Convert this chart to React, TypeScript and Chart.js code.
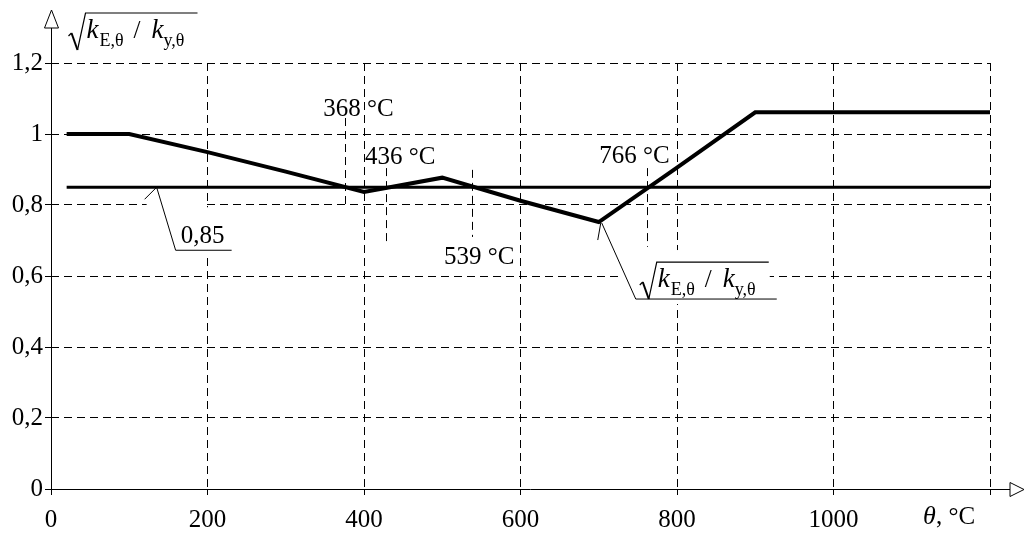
import React, { useEffect, useRef } from 'react';
import { Chart, registerables } from 'chart.js';

Chart.register(...registerables);

const FONT = "'Liberation Serif', 'Times New Roman', serif";

// Data
const temperatures = [20, 100, 200, 300, 400, 500, 600, 700, 800, 900, 1000, 1100, 1200];
const ratioValues = [1.0, 1.0, 0.949, 0.894, 0.837, 0.877, 0.812, 0.752, 0.905, 1.061, 1.061, 1.061, 1.061];
const limitTemps = [20, 1200];
const limitValues = [0.85, 0.85];
const xTickValues = [0, 200, 400, 600, 800, 1000, 1200];
const yTickValues = [0, 0.2, 0.4, 0.6, 0.8, 1.0, 1.2];
const limitLabel = '0,85';
const markerLabels = ['368 °C', '436 °C', '539 °C', '766 °C'];
const markerTemps = [376, 428, 538, 762];
const markerFrom = [0.8, 0.685, 0.71, 0.682];
const markerTo = [1.045, 0.904, 0.899, 0.904];
const limitLeaderTemp = 135;
const curveLeaderIndex = 7;

// Layout of annotation labels (pixel offsets)
const markerLabelLayout = [
  { dx: -22, dy: -9, end: 'top' },
  { dx: -21, dy: -11, end: 'top' },
  { dx: -28, dy: 20, end: 'bottom' },
  { dx: -48, dy: -12, end: 'top' },
];

function fmtY(v: number): string {
  if (v === 0) return '0';
  if (Math.abs(v - 1) < 1e-9) return '1';
  return v.toFixed(1).replace('.', ',');
}

function drawSqrtLabel(ctx: CanvasRenderingContext2D, x0: number, base: number) {
  ctx.save();
  ctx.strokeStyle = '#000';
  ctx.fillStyle = '#000';
  ctx.lineWidth = 1.2;
  ctx.lineJoin = 'miter';
  ctx.beginPath();
  ctx.moveTo(x0, base - 2);
  ctx.lineTo(x0 + 3, base - 5);
  ctx.stroke();
  ctx.lineWidth = 2;
  ctx.beginPath();
  ctx.moveTo(x0 + 3, base - 5);
  ctx.lineTo(x0 + 9, base + 12);
  ctx.stroke();
  ctx.lineWidth = 1.2;
  ctx.beginPath();
  ctx.moveTo(x0 + 9, base + 12);
  ctx.lineTo(x0 + 17, base - 25);
  ctx.lineTo(x0 + 129, base - 25);
  ctx.stroke();
  ctx.textBaseline = 'alphabetic';
  ctx.textAlign = 'left';
  ctx.font = `italic 27px ${FONT}`;
  ctx.fillText('k', x0 + 18, base);
  ctx.font = `18px ${FONT}`;
  ctx.fillText('E,θ', x0 + 31, base + 8);
  ctx.font = `25px ${FONT}`;
  ctx.fillText('/', x0 + 65, base);
  ctx.font = `italic 27px ${FONT}`;
  ctx.fillText('k', x0 + 83, base);
  ctx.font = `18px ${FONT}`;
  ctx.fillText('y,θ', x0 + 95, base + 8);
  ctx.restore();
}

const overlayPlugin = {
  id: 'overlay',
  afterDraw(chart: any) {
    const ctx: CanvasRenderingContext2D = chart.ctx;
    const xs = chart.scales.x;
    const ys = chart.scales.y;
    const ax = Math.round(xs.getPixelForValue(0)) + 0.5;
    const ay = Math.round(ys.getPixelForValue(0)) + 0.5;
    ctx.save();
    ctx.strokeStyle = '#000';
    ctx.fillStyle = '#000';

    // Axes
    ctx.lineWidth = 1;
    ctx.setLineDash([]);
    ctx.beginPath();
    ctx.moveTo(ax, ay);
    ctx.lineTo(ax, 28);
    ctx.moveTo(ax - 0.5, ay);
    ctx.lineTo(1010, ay);
    ctx.stroke();

    // Arrows (open triangles)
    ctx.fillStyle = '#fff';
    ctx.beginPath();
    ctx.moveTo(ax, 10);
    ctx.lineTo(ax - 7, 28);
    ctx.lineTo(ax + 7, 28);
    ctx.closePath();
    ctx.fill();
    ctx.stroke();
    ctx.beginPath();
    ctx.moveTo(1024, ay);
    ctx.lineTo(1010, ay - 7);
    ctx.lineTo(1010, ay + 7);
    ctx.closePath();
    ctx.fill();
    ctx.stroke();
    ctx.fillStyle = '#000';

    // Temperature markers
    ctx.setLineDash([8, 5]);
    ctx.lineWidth = 1;
    markerTemps.forEach((t, i) => {
      const px = Math.round(xs.getPixelForValue(t)) + 0.5;
      const yTop = ys.getPixelForValue(markerTo[i]);
      const yBot = ys.getPixelForValue(markerFrom[i]);
      ctx.beginPath();
      ctx.moveTo(px, yTop);
      ctx.lineTo(px, yBot);
      ctx.stroke();
    });
    ctx.setLineDash([]);
    ctx.font = `25px ${FONT}`;
    ctx.textBaseline = 'middle';
    ctx.textAlign = 'left';
    markerTemps.forEach((t, i) => {
      const L = markerLabelLayout[i];
      const px = xs.getPixelForValue(t);
      const yRef = L.end === 'top' ? ys.getPixelForValue(markerTo[i]) : ys.getPixelForValue(markerFrom[i]);
      ctx.fillText(markerLabels[i], px + L.dx, yRef + L.dy);
    });

    // Leader for 0,85
    {
      const px = xs.getPixelForValue(limitLeaderTemp);
      const py = ys.getPixelForValue(limitValues[0]);
      ctx.fillStyle = '#fff';
      ctx.fillRect(px - 10, py + 9, 57, 11);
      ctx.fillRect(px + 5, py + 20, 73, 47);
      ctx.fillStyle = '#000';
      ctx.lineWidth = 1;
      ctx.beginPath();
      ctx.moveTo(px, py);
      ctx.lineTo(px - 12, py + 12);
      ctx.moveTo(px, py);
      ctx.lineTo(px + 19, py + 63);
      ctx.lineTo(px + 75, py + 63);
      ctx.stroke();
      ctx.font = `25px ${FONT}`;
      ctx.textBaseline = 'middle';
      ctx.fillText(limitLabel, px + 24, py + 49);
    }

    // Leader for curve label
    {
      const px = xs.getPixelForValue(temperatures[curveLeaderIndex]);
      const py = ys.getPixelForValue(ratioValues[curveLeaderIndex]);
      ctx.fillStyle = '#fff';
      ctx.fillRect(px + 21, py + 28, 150, 54);
      ctx.fillStyle = '#000';
      ctx.lineWidth = 1;
      ctx.beginPath();
      ctx.moveTo(px + 2, py + 1);
      ctx.lineTo(px - 1, py + 18);
      ctx.moveTo(px + 3, py + 1);
      ctx.lineTo(px + 37, py + 77);
      ctx.lineTo(px + 178, py + 77);
      ctx.stroke();
      drawSqrtLabel(ctx, px + 41, py + 65);
    }

    // Y axis title
    drawSqrtLabel(ctx, ax + 17, 38);

    // X axis title
    const rx = xs.getPixelForValue(1200);
    ctx.textBaseline = 'alphabetic';
    ctx.textAlign = 'left';
    ctx.font = `italic 26px ${FONT}`;
    ctx.fillText('θ', rx - 67, 524);
    ctx.font = `25px ${FONT}`;
    ctx.fillText(', °C', rx - 54, 524);

    ctx.restore();
  },
};

export default function App() {
  const ref = useRef<HTMLCanvasElement | null>(null);
  useEffect(() => {
    if (!ref.current) return;
    const chart = new Chart(ref.current, {
      type: 'line',
      data: {
        datasets: [
          {
            label: 'sqrt(kE/ky)',
            data: temperatures.map((t, i) => ({ x: t, y: ratioValues[i] })),
            borderColor: '#000',
            borderWidth: 4,
            pointRadius: 0,
            tension: 0,
            borderJoinStyle: 'miter',
            fill: false,
          },
          {
            label: '0,85',
            data: limitTemps.map((t, i) => ({ x: t, y: limitValues[i] })),
            borderColor: '#000',
            borderWidth: 3,
            pointRadius: 0,
            tension: 0,
            fill: false,
          },
        ],
      },
      options: {
        responsive: false,
        animation: false,
        devicePixelRatio: 1,
        layout: { padding: { top: 63, right: 36, left: 0, bottom: 0 } },
        plugins: { legend: { display: false }, tooltip: { enabled: false } },
        scales: {
          x: {
            type: 'linear',
            min: 0,
            max: 1200,
            afterBuildTicks: (s: any) => {
              s.ticks = xTickValues.map((v) => ({ value: v }));
            },
            afterFit: (s: any) => {
              s.height = 44;
            },
            ticks: {
              autoSkip: false,
              maxRotation: 0,
              color: '#000',
              padding: 10,
              font: { family: FONT, size: 25 },
              callback: (v: any) => (v === 1200 ? '' : String(v)),
            },
            grid: { color: '#000', lineWidth: 1, tickLength: 6 },
            border: { display: false, dash: [8, 5] },
          },
          y: {
            type: 'linear',
            min: 0,
            max: 1.2,
            afterBuildTicks: (s: any) => {
              s.ticks = yTickValues.map((v) => ({ value: v }));
            },
            afterFit: (s: any) => {
              s.width = 51;
            },
            ticks: {
              color: '#000',
              padding: 2,
              font: { family: FONT, size: 25 },
              callback: (v: any) => fmtY(Number(v)),
            },
            grid: { color: '#000', lineWidth: 1, tickLength: 6 },
            border: { display: false, dash: [8, 5] },
          },
        },
      },
      plugins: [overlayPlugin],
    } as any);
    return () => chart.destroy();
  }, []);
  return (
    <div style={{ position: 'absolute', left: 0, top: 0, width: 1026, height: 533, background: '#fff' }}>
      <canvas ref={ref} width={1026} height={533} style={{ display: 'block' }} />
    </div>
  );
}
